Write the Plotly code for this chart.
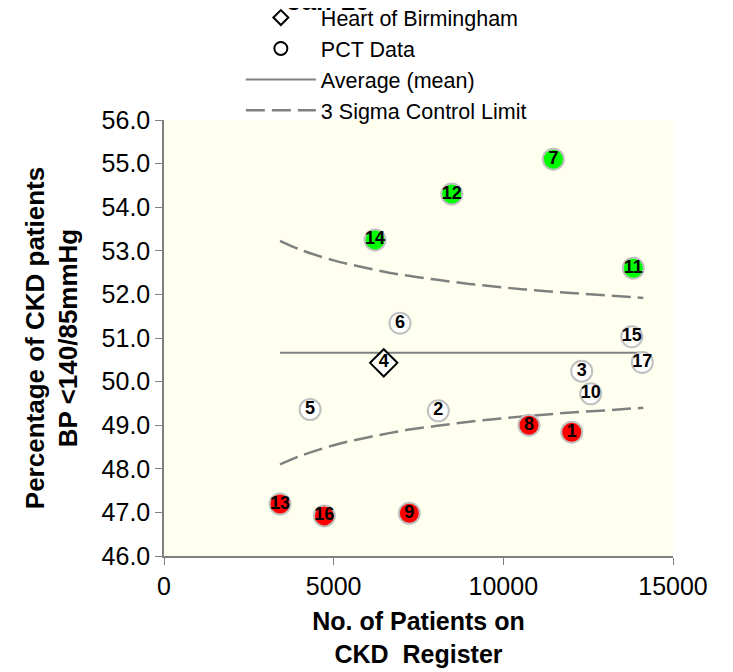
import plotly.graph_objects as go

# ---- data ----
pct_labels = ["1", "2", "3", "4", "5", "6", "7", "8", "9", "10",
              "11", "12", "13", "14", "15", "16", "17"]
patients = [12015, 8085, 12310, 6475, 4305, 6955, 11475, 10755, 7230, 12575,
            13830, 8480, 3420, 6220, 13785, 4725, 14095]
pct_bp = [48.84, 49.33, 50.24, 50.43, 49.36, 51.34, 55.10, 49.00, 46.98, 49.72,
          52.60, 54.30, 47.19, 53.25, 51.03, 46.92, 50.44]
status = ["low", "mid", "mid", "mid", "mid", "mid", "high", "low", "low", "mid",
          "high", "high", "low", "high", "mid", "low", "mid"]
hob_label = "4"  # Heart of Birmingham

mean_x = [3420, 14125]
mean_y = [50.66, 50.66]

limit_x = [3420, 4000, 5000, 6000, 7000, 8000, 9000, 10000, 11000, 12000, 13000, 14125]
upper_limit = [53.23, 53.03, 52.78, 52.60, 52.45, 52.34, 52.24, 52.16, 52.09, 52.03, 51.98, 51.92]
lower_limit = [48.10, 48.29, 48.54, 48.72, 48.87, 48.98, 49.08, 49.16, 49.23, 49.29, 49.34, 49.40]

x_ticks = [0, 5000, 10000, 15000]
y_ticks = [46, 47, 48, 49, 50, 51, 52, 53, 54, 55, 56]

# ---- styling ----
FONT = "Liberation Sans, Arial, sans-serif"
fill_map = {"high": "#00FF00", "low": "#FF0000", "mid": "#FFFFFF"}
GREY = "#808080"

hob_idx = pct_labels.index(hob_label)
circ_idx = [i for i in range(len(pct_labels)) if i != hob_idx]

fig = go.Figure()

# legend entries
fig.add_trace(go.Scatter(
    x=[None], y=[None], mode="markers", name="Heart of Birmingham",
    legendgroup="hob",
    marker=dict(symbol="diamond", size=11.5, color="#FFFFFF",
                line=dict(color="#000000", width=2)),
))
fig.add_trace(go.Scatter(
    x=[None], y=[None], mode="markers", name="PCT Data", legendgroup="pct",
    marker=dict(symbol="circle", size=13, color="#FFFFFF",
                line=dict(color="#000000", width=2)),
))
fig.add_trace(go.Scatter(
    x=mean_x, y=mean_y, mode="lines", name="Average (mean)",
    line=dict(color=GREY, width=2),
))
fig.add_trace(go.Scatter(
    x=limit_x, y=upper_limit, mode="lines", name="3 Sigma Control Limit",
    legendgroup="sigma", line=dict(color=GREY, width=2.5, dash="19px,7px", shape="spline"),
))
fig.add_trace(go.Scatter(
    x=limit_x, y=lower_limit, mode="lines", name="3 Sigma Control Limit",
    legendgroup="sigma", showlegend=False,
    line=dict(color=GREY, width=2.5, dash="19px,7px", shape="spline"),
))
# Heart of Birmingham point
fig.add_trace(go.Scatter(
    x=[patients[hob_idx]], y=[pct_bp[hob_idx]], mode="markers",
    name="Heart of Birmingham", legendgroup="hob", showlegend=False,
    marker=dict(symbol="diamond", size=21, color="#FFFFFF",
                line=dict(color="#000000", width=2)),
))
# PCT circles
fig.add_trace(go.Scatter(
    x=[patients[i] for i in circ_idx], y=[pct_bp[i] for i in circ_idx],
    mode="markers", showlegend=False, name="PCT Data", legendgroup="pct",
    marker=dict(symbol="circle", size=21,
                color=[fill_map[status[i]] for i in circ_idx],
                line=dict(color="#C0C0C0", width=2)),
))
# numbers
fig.add_trace(go.Scatter(
    x=patients, y=pct_bp, mode="text", text=pct_labels, showlegend=False,
    textposition="middle center",
    textfont=dict(family=FONT, size=18, color="#000000", weight="bold"),
    hoverinfo="skip",
))

fig.add_annotation(
    text="<b>Jan-10</b>", xref="paper", yref="paper", x=0.322, y=1.272,
    xanchor="center", yanchor="middle", showarrow=False,
    font=dict(family=FONT, size=26, color="#000000"),
)

fig.update_layout(
    width=733, height=672,
    margin=dict(l=156, r=68, t=112, b=124, autoexpand=False),
    paper_bgcolor="#FFFFFF", plot_bgcolor="#FFFFF0",
    font=dict(family=FONT, color="#000000"),
    showlegend=True,
    legend=dict(x=0.151, y=1.282, xanchor="left", yanchor="top",
                font=dict(family=FONT, size=21.5, color="#000000"),
                bgcolor="rgba(0,0,0,0)", itemwidth=70, tracegroupgap=0,
                traceorder="normal"),
    xaxis=dict(range=[0, 15000], tickvals=x_ticks, tickformat="d", ticks="outside", ticklen=7,
               tickcolor=GREY, showline=True, linecolor=GREY, linewidth=1.5,
               showgrid=False, zeroline=False, automargin=False,
               tickfont=dict(family=FONT, size=25, color="#000000"),
               title=dict(text="<b>No. of Patients on<br>CKD  Register</b>",
                          font=dict(family=FONT, size=25, color="#000000"), standoff=14)),
    yaxis=dict(range=[46, 56], tickvals=y_ticks, tickformat=".1f", ticks="outside",
               ticklen=7, tickcolor=GREY, showline=True, linecolor=GREY, linewidth=1.5,
               showgrid=False, zeroline=False, automargin=False,
               tickfont=dict(family=FONT, size=25, color="#000000"),
               title=dict(text="<b>Percentage of CKD patients<br>BP <140/85mmHg</b>",
                          font=dict(family=FONT, size=26, color="#000000"), standoff=16)),
)

fig.write_html("out.html")
